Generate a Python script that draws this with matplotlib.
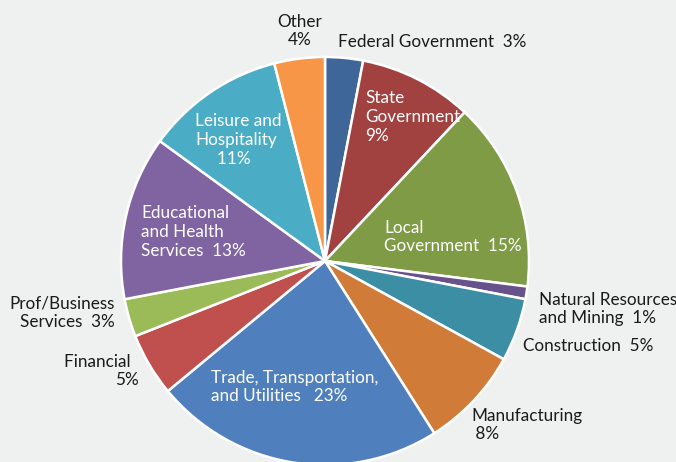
import matplotlib.pyplot as plt

# employment share by sector, clockwise from the top
sectors = ['Federal Government', 'State Government', 'Local Government',
           'Natural Resources and Mining', 'Construction', 'Manufacturing',
           'Trade, Transportation, and Utilities', 'Financial',
           'Prof/Business Services', 'Educational and Health Services',
           'Leisure and Hospitality', 'Other']
shares = [3, 9, 15, 1, 5, 8, 23, 5, 3, 13, 11, 4]
colors = ['#3f6698', '#a14240', '#7f9b46', '#67528a', '#3c8ea4', '#d07c38',
          '#4f80bd', '#c0504d', '#9bbb59', '#8064a2', '#4bacc6', '#f79646']
explode = [0, 0, 0, 0, 0, 0, 0.025, 0, 0, 0, 0, 0]

# label text, anchor (x, y from top), alignment, colour
labels = [
    ('Other\n4%', 300, 31, 'center', '#1a1a1a'),
    ('Federal Government  3%', 338, 42, 'left', '#1a1a1a'),
    ('State\nGovernment\n9%', 365, 117, 'left', 'white'),
    ('Local\nGovernment  15%', 384, 237, 'left', 'white'),
    ('Natural Resources\nand Mining  1%', 539, 309, 'left', '#1a1a1a'),
    ('Construction  5%', 523, 346, 'left', '#1a1a1a'),
    ('Manufacturing\n 8%', 471, 425, 'left', '#1a1a1a'),
    ('Trade, Transportation,\nand Utilities   23%', 211, 387, 'left', 'white'),
    ('Financial  \n5%', 139, 371, 'right', '#1a1a1a'),
    ('Prof/Business\nServices  3%', 115, 313, 'right', '#1a1a1a'),
    ('Educational\nand Health\nServices  13%', 141, 232, 'left', 'white'),
    ('Leisure and\nHospitality\n     11%', 195, 140, 'left', 'white'),
]

W, H = 676, 462
bg = '#eff0f0'
plt.rcParams['font.family'] = ['Lato', 'DejaVu Sans']

fig = plt.figure(figsize=(W / 100, H / 100), dpi=100, facecolor=bg)
ax = fig.add_axes([0, 0, 1, 1])
ax.set_facecolor(bg)
ax.set_xlim(0, W)
ax.set_ylim(0, H)
ax.set_aspect('equal')
ax.axis('off')

ax.pie(shares, colors=colors, explode=explode, startangle=90,
       counterclock=False, center=(325, H - 261), radius=204,
       wedgeprops=dict(edgecolor='white', linewidth=1.8))
ax.set_xlim(0, W)
ax.set_ylim(0, H)

for text, x, y, ha, c in labels:
    ax.text(x, H - y, text, ha=ha, va='center', multialignment=ha,
            color=c, fontsize=12.3, linespacing=1.22)

fig.savefig('out.png', dpi=100, facecolor=bg)
